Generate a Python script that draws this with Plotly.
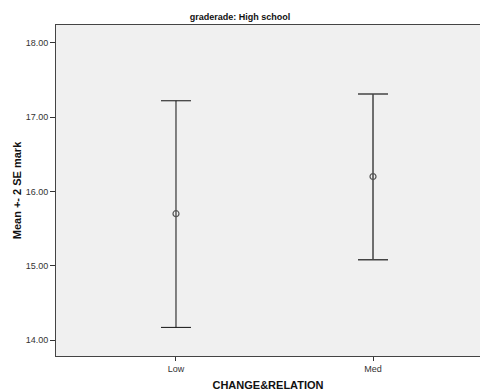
import plotly.graph_objects as go

categories = ["Low", "Med"]
means = [15.70, 16.20]
upper = [17.22, 17.31]
lower = [14.17, 15.08]
bar_colors = ["#111111", "#444444"]
tick_vals = [14, 15, 16, 17, 18]
tick_text = ["14.00", "15.00", "16.00", "17.00", "18.00"]

fig = go.Figure()
for i, c in enumerate(categories):
    fig.add_trace(go.Scatter(
        x=[i], y=[means[i]], mode="markers",
        marker=dict(symbol="circle-open", size=6, color="#555555", line=dict(width=1.2)),
        error_y=dict(type="data", symmetric=False,
                     array=[upper[i] - means[i]], arrayminus=[means[i] - lower[i]],
                     color=bar_colors[i], thickness=1 if i == 0 else 1.5, width=15),
        showlegend=False,
    ))

fig.update_layout(
    width=480, height=392,
    margin=dict(l=56, r=0, t=25, b=36),
    paper_bgcolor="white", plot_bgcolor="#f0f0f0",
    font=dict(family="Liberation Sans, Arial, sans-serif", color="#222222"),
    title=dict(text="<b>graderade: High school</b>", x=0.5, xanchor="center",
               y=1 - 20 / 392, yanchor="bottom", font=dict(size=9, color="#111111")),
)
fig.update_xaxes(
    range=[-0.609, 1.543], tickmode="array", tickvals=[0, 1], ticktext=categories,
    ticks="outside", ticklen=4, tickcolor="#333333", tickfont=dict(size=9, color="#333333"),
    showline=True, linecolor="#444444", linewidth=1, mirror=True, showgrid=False, zeroline=False,
    title=dict(text="<b>CHANGE&RELATION</b>", font=dict(size=11, color="#111111"), standoff=8),
)
fig.update_yaxes(
    range=[13.785, 18.24], tickmode="array", tickvals=tick_vals, ticktext=tick_text,
    ticks="outside", ticklen=5, tickcolor="#333333", tickfont=dict(size=9, color="#333333"),
    showline=True, linecolor="#444444", linewidth=1, showgrid=False, zeroline=False,
    title=dict(text="<b>Mean +- 2 SE mark</b>", font=dict(size=11, color="#111111"), standoff=1),
)
fig.write_html("out.html")
